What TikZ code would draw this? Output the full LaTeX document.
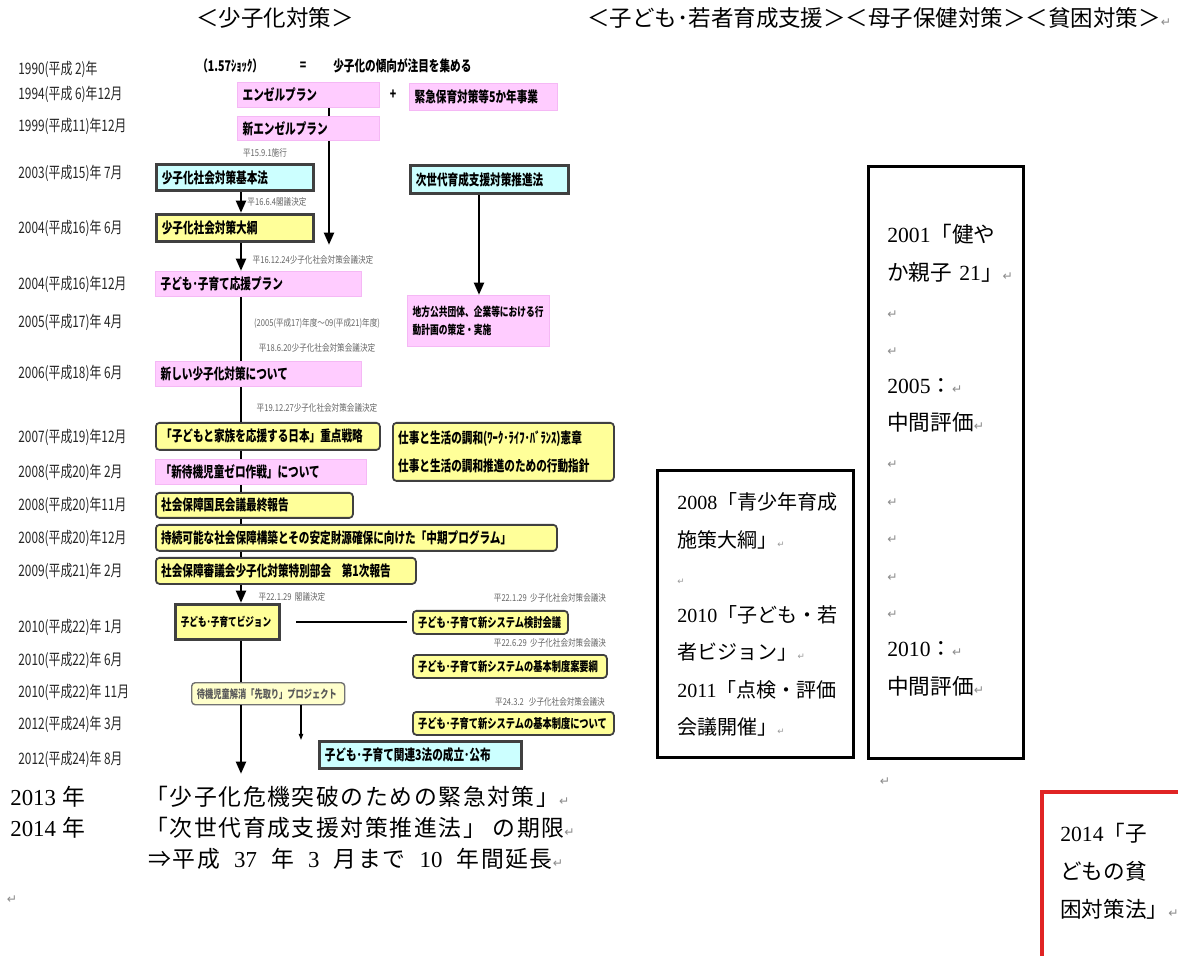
\documentclass[tikz,border=0pt]{standalone}
\usepackage{fontspec}
\usetikzlibrary{arrows.meta,calc}
\newfontfamily\jp{Noto Sans CJK JP}
\newfontfamily\jpl[LetterSpace=7]{Noto Sans CJK JP}
\newfontfamily\jpc[FakeStretch=0.8]{Noto Sans CJK JP}
\newfontfamily\jpb[FakeStretch=0.72]{Noto Sans CJK JP}
\newfontfamily\jpy[FakeStretch=0.75]{Noto Sans CJK JP}
\newfontfamily\dgf{Liberation Serif}
\newfontfamily\djv{DejaVu Sans}
\newcommand\dg[1]{{\dgf #1}}
\newcommand\rt{{\djv\fontsize{7}{7}\selectfont\textcolor{black!45}{↵}}}
\newcommand\rts{{\djv\fontsize{5}{5}\selectfont\textcolor{black!40}{↵}}}
\newcommand\gap{\hspace{0.62em}}
\definecolor{pinkf}{HTML}{FFCCFF}
\definecolor{pinkd}{HTML}{F5B8F5}
\definecolor{yel}{HTML}{FFFF99}
\definecolor{lyel}{HTML}{FFFFCC}
\definecolor{cyanf}{HTML}{CCFFFF}
\definecolor{dk}{HTML}{404040}
\definecolor{redb}{HTML}{E02424}
\newcommand\bx[7]{%
  \pgfmathsetmacro\bxw{(#5-#3)*0.02*28.45274-6}%
  \pgfmathsetmacro\bxh{(#6-#4)*0.02}%
  \node[#1, anchor=north west, inner xsep=3pt, inner ysep=0pt, text width=\bxw pt,
        minimum height=\bxh cm, align=left] (#2) at (#3,#4) {#7};}
\tikzset{
  boxtext/.style={font=\jpb\bfseries\fontsize{8.4}{9.6}\selectfont},
  smalltext/.style={font=\jpb\bfseries\fontsize{7.3}{9}\selectfont},
  pinkbox/.style={boxtext, fill=pinkf, draw=pinkd, line width=0.5pt},
  ybox/.style={boxtext, fill=yel, draw=dk, line width=1pt, rounded corners=2pt},
  lybox/.style={font=\jpb\bfseries\fontsize{6.5}{7.5}\selectfont, text=black!65, fill=lyel, draw=black!55, line width=0.8pt, rounded corners=2pt},
  ydark/.style={boxtext, fill=yel, draw=dk, line width=1.8pt},
  cdark/.style={boxtext, fill=cyanf, draw=dk, line width=1.8pt},
  yearlbl/.style={font=\jpy\fontsize{9}{10}\selectfont, text=black!85, anchor=west, inner sep=0pt},
  note/.style={font=\jpc\fontsize{5.4}{6}\selectfont, text=black!60, inner sep=0pt},
  mline/.style={line width=1.6pt},
  marrow/.style={line width=1.6pt, -{Triangle[length=7pt,width=5.5pt]}},
  hdr/.style={font=\jp\fontsize{12.8}{15}\selectfont, anchor=west, inner sep=0pt},
  mincho/.style={font=\jp\fontsize{12.3}{21.4}\selectfont, anchor=base west, inner sep=0pt, align=left},
  bottomtxt/.style={font=\jpl\fontsize{13}{15}\selectfont, anchor=west, inner sep=0pt},
}
\begin{document}
\begin{tikzpicture}[x=0.02cm,y=-0.02cm]
\useasboundingbox (0,0) rectangle (1178,956);
\fill[white] (0,0) rectangle (1178,956);

% headers
\node[hdr] (h1) at (196,18) {＜少子化対策＞};
\node[hdr] (h2) at (587,18) {＜子ども･若者育成支援＞＜母子保健対策＞＜貧困対策＞\rt};

% year labels
\node[yearlbl] (yr1990) at (18,69) {1990(平成 2)年};
\node[yearlbl] (yr1994) at (18,94) {1994(平成 6)年12月};
\node[yearlbl] (yr1999) at (18,126) {1999(平成11)年12月};
\node[yearlbl] (yr2003) at (18,173) {2003(平成15)年 7月};
\node[yearlbl] (yr2004a) at (18,228) {2004(平成16)年 6月};
\node[yearlbl] (yr2004b) at (18,284) {2004(平成16)年12月};
\node[yearlbl] (yr2005) at (18,322) {2005(平成17)年 4月};
\node[yearlbl] (yr2006) at (18,373) {2006(平成18)年 6月};
\node[yearlbl] (yr2007) at (18,437) {2007(平成19)年12月};
\node[yearlbl] (yr2008a) at (18,472) {2008(平成20)年 2月};
\node[yearlbl] (yr2008b) at (18,505) {2008(平成20)年11月};
\node[yearlbl] (yr2008c) at (18,538) {2008(平成20)年12月};
\node[yearlbl] (yr2009) at (18,571) {2009(平成21)年 2月};
\node[yearlbl] (yr2010a) at (18,627) {2010(平成22)年 1月};
\node[yearlbl] (yr2010b) at (18,660) {2010(平成22)年 6月};
\node[yearlbl] (yr2010c) at (18,692) {2010(平成22)年 11月};
\node[yearlbl] (yr2012a) at (18,724) {2012(平成24)年 3月};
\node[yearlbl] (yr2012b) at (18,759) {2012(平成24)年 8月};

% first row texts
\node[boxtext, anchor=west, inner sep=0pt] (shock) at (197,66) {（1.57ｼｮｯｸ）};
\node[boxtext, inner sep=0pt] (eq) at (303,66) {=};
\node[boxtext, anchor=west, inner sep=0pt] (chumoku) at (333,66) {少子化の傾向が注目を集める};
\node[boxtext, inner sep=0pt] (plus) at (393,95) {+};

% boxes
\bx{pinkbox}{angel}{237}{82}{379}{107}{エンゼルプラン}
\bx{pinkbox}{kinkyu}{409}{83}{557}{110}{緊急保育対策等5か年事業}
\bx{pinkbox}{shinangel}{237}{116}{379}{140}{新エンゼルプラン}
\bx{cdark}{kihonho}{155}{163}{312}{189}{少子化社会対策基本法}
\bx{cdark}{jisedai}{409}{164}{567}{192}{次世代育成支援対策推進法}
\bx{ydark}{taiko}{155}{213}{312}{240}{少子化社会対策大綱}
\bx{pinkbox, font=\jpb\bfseries\fontsize{6.9}{10}\selectfont}{chiho}{407}{295}{549}{346}{地方公共団体、企業等における行\\動計画の策定・実施}
\bx{pinkbox}{ouen}{155}{271}{361}{296}{子ども･子育て応援プラン}
\bx{pinkbox}{atarashii}{155}{361}{361}{386}{新しい少子化対策について}
\bx{ybox}{juten}{155}{422}{379}{449}{「子どもと家族を応援する日本」重点戦略}
\bx{ybox, font=\jpb\bfseries\fontsize{8.4}{15.5}\selectfont}{shigoto}{392}{422}{613}{480}{仕事と生活の調和(ﾜｰｸ･ﾗｲﾌ･ﾊﾞﾗﾝｽ)憲章\\仕事と生活の調和推進のための行動指針}
\bx{pinkbox}{zero}{155}{459}{366}{484}{「新待機児童ゼロ作戦」について}
\bx{ybox}{kokumin}{155}{492}{352}{517}{社会保障国民会議最終報告}
\bx{ybox}{chuki}{155}{524}{556}{550}{持続可能な社会保障構築とその安定財源確保に向けた「中期プログラム」}
\bx{ybox}{dai1}{155}{557}{415}{583}{社会保障審議会少子化対策特別部会　第1次報告}
\bx{ydark, font=\jpb\bfseries\fontsize{6.8}{8}\selectfont}{vision}{174}{603}{278}{638}{子ども･子育てビジョン}
\bx{ybox, smalltext}{kento}{412}{610}{567}{633}{子ども･子育て新システム検討会議}
\bx{ybox, smalltext}{yoko}{412}{654}{606}{677}{子ども･子育て新システムの基本制度案要綱}
\bx{ybox, smalltext}{kihonseido}{412}{711}{613}{734}{子ども･子育て新システムの基本制度について}
\bx{lybox}{sakidori}{191}{682}{344}{704}{待機児童解消「先取り」プロジェクト}
\bx{cdark}{sanpo}{318}{740}{520}{767}{子ども･子育て関連3法の成立･公布}

% small notes
\node[note] (n1) at (265,153) {平15.9.1施行};
\node[note] (n2) at (277,202) {平16.6.4閣議決定};
\node[note] (n3) at (313,260) {平16.12.24少子化社会対策会議決定};
\node[note] (n4) at (317,323) {(2005(平成17)年度～09(平成21)年度)};
\node[note] (n5) at (317,348) {平18.6.20少子化社会対策会議決定};
\node[note] (n6) at (317,408) {平19.12.27少子化社会対策会議決定};
\node[note] (n7) at (292,597) {平22.1.29\ \ 閣議決定};
\node[note] (n8) at (550,598) {平22.1.29\ \ 少子化社会対策会議決};
\node[note] (n9) at (550,643) {平22.6.29\ \ 少子化社会対策会議決};
\node[note] (n10) at (550,702) {平24.3.2\ \ \ 少子化社会対策会議決};

% connector columns
\coordinate (c1) at (241,0);
\coordinate (c2) at (329,0);
\coordinate (c3) at (479,0);
\coordinate (c4) at (301,0);
\coordinate (e2) at (329,245);
\coordinate (endm) at (241,774);

\draw[line width=1pt] (angel.south -| c2) -- (shinangel.north -| c2);
\draw[marrow] (shinangel.south -| c2) -- (e2);
\draw[marrow] (kihonho.south -| c1) -- (taiko.north -| c1);
\draw[marrow] (jisedai.south -| c3) -- (chiho.north -| c3);
\draw[marrow] (taiko.south -| c1) -- (ouen.north -| c1);
\draw[mline] (ouen.south -| c1) -- (atarashii.north -| c1);
\draw[mline] (atarashii.south -| c1) -- (juten.north -| c1);
\draw[mline] (juten.south -| c1) -- (zero.north -| c1);
\draw[mline] (zero.south -| c1) -- (kokumin.north -| c1);
\draw[mline] (kokumin.south -| c1) -- (chuki.north -| c1);
\draw[mline] (chuki.south -| c1) -- (dai1.north -| c1);
\draw[marrow] (dai1.south -| c1) -- (vision.north -| c1);
\draw[mline] (vision.south -| c1) -- (sakidori.north -| c1);
\draw[marrow] (sakidori.south -| c1) -- (endm);
\draw[mline] ($(vision.east)+(15,0)$) -- ($(vision.east -| kento.west)+(-5,0)$);
\draw[line width=0.6pt, -{Triangle[length=3.5pt,width=2.5pt]}] (sakidori.south -| c4) -- (sanpo.north -| c4);

% right boxes
\node[draw, line width=1.6pt, anchor=north west, minimum width=3.92cm, minimum height=5.74cm, inner sep=0pt] (seisho) at (656,469) {};
\node[mincho, font=\jp\fontsize{11.4}{21.3}\selectfont, text width=3.6cm] (seishotxt) at (677,510) {\dg{2008}「青少年育成\\施策大綱」\rts\\\rts\\\dg{2010}「子ども・若\\者ビジョン」\rts\\\dg{2011}「点検・評価\\会議開催」\rts};

\node[draw, line width=1.6pt, anchor=north west, minimum width=3.1cm, minimum height=11.84cm, inner sep=0pt] (boshi) at (867,165) {};
\node[mincho, text width=2.9cm] (boshitxt) at (887,243) {\dg{2001}「健や\\か親子 \dg{21}」\rt\\\rt\\\rt\\\dg{2005}：\rt\\中間評価\rt\\\rt\\\rt\\\rt\\\rt\\\rt\\\dg{2010}：\rt\\中間評価\rt};

\node[inner sep=0pt] (rtmid) at (885,782) {\rt};

\begin{scope}
\clip (0,0) rectangle (1178,956);
\node[draw=redb, line width=2.4pt, anchor=north west, minimum width=3.4cm, minimum height=4.2cm, inner sep=0pt] (hinkon) at (1040,790) {};
\node[mincho, text width=2.6cm, font=\jp\fontsize{12.3}{21.8}\selectfont] (hinkontxt) at (1060,841) {\dg{2014}「子\\どもの貧\\困対策法」\rt};
\end{scope}

% bottom text
\node[bottomtxt] (y2013) at (10,797) {\dg{2013} 年};
\node[bottomtxt] (t2013) at (145,797) {「少子化危機突破のための緊急対策」\rt};
\node[bottomtxt] (y2014) at (10,828) {\dg{2014} 年};
\node[bottomtxt] (t2014) at (145,828) {「次世代育成支援対策推進法」 の期限\rt};
\node[bottomtxt] (t2014b) at (148,859) {⇒平成\gap\dg{37}\gap 年\gap\dg{3}\gap 月まで\gap\dg{10}\gap 年間延長\rt};
\node[inner sep=0pt] (rtbot) at (12,900) {\rt};
\end{tikzpicture}
\end{document}
